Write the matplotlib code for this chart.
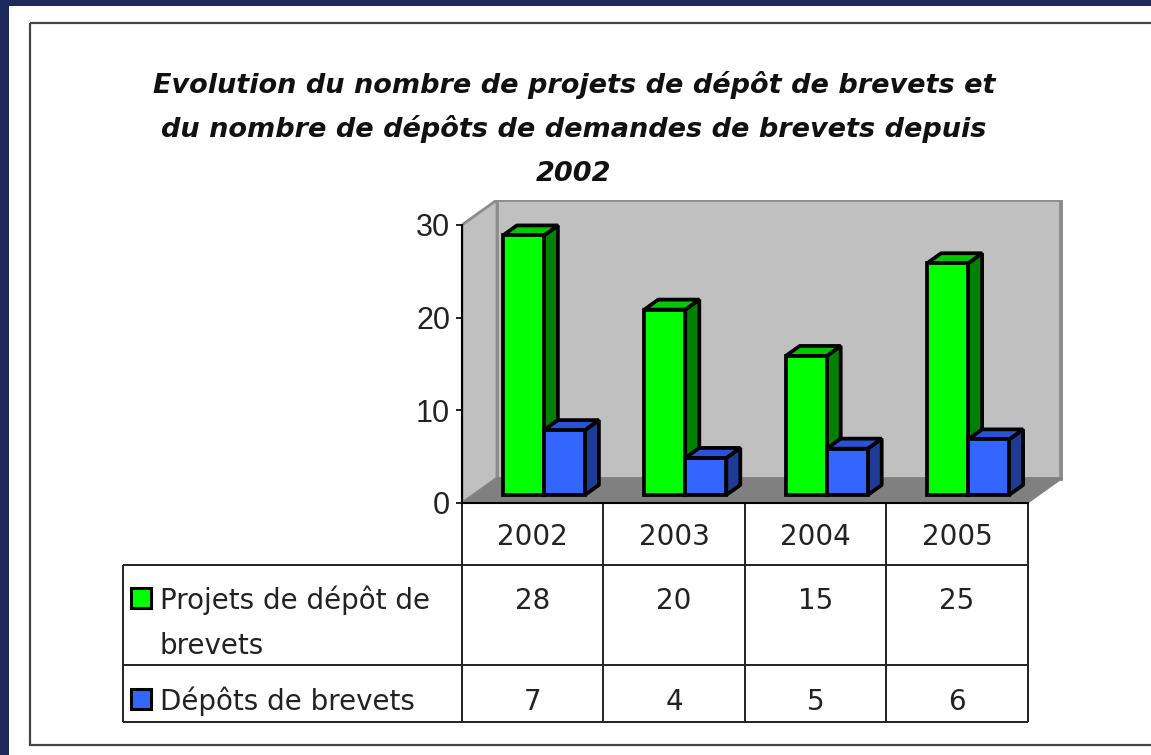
import matplotlib.pyplot as plt
from matplotlib.patches import Polygon, Rectangle

W, H = 1151, 755

annees = ['2002', '2003', '2004', '2005']
projets = [28, 20, 15, 25]
depots = [7, 4, 5, 6]
noms = [['Projets de dépôt de', 'brevets'], ['Dépôts de brevets']]
titre = ["Evolution du nombre de projets de dépôt de brevets et",
         "du nombre de dépôts de demandes de brevets depuis",
         "2002"]
yticks = [0, 10, 20, 30]

NAVY = '#1d2a5c'
# front, side, top
VERT = ('#00ff00', '#008000', '#00c800')
BLEU = ('#3366ff', '#1f3b93', '#2a52d6')

# layout (pixels)
X0, Y0 = 462, 503
CAT_PX, UNIT_PX = 141.4, 9.27
DEPTH = (35, 25)

fig = plt.figure(figsize=(W / 100, H / 100), dpi=100)
fig.patch.set_facecolor(NAVY)

# background layer in pixel coords: page, frame, title, table
lay = fig.add_axes([0, 0, 1, 1], zorder=0)
lay.set_xlim(0, W)
lay.set_ylim(H, 0)
lay.axis('off')
lay.add_patch(Rectangle((9, 6), W, H, fc='white', ec='none'))
lay.add_patch(Rectangle((30, 23), W, 722, fc='none', ec='#444444', lw=1.6))

for j, ligne in enumerate(titre):
    lay.text(574, 93 + 44 * j, ligne, ha='center', va='baseline', fontsize=19.5,
             fontweight='bold', style='italic', color='#111111', family='DejaVu Sans')

# chart axes
n = len(annees)
ymax = yticks[-1]
ddx, ddy = DEPTH[0] / CAT_PX, DEPTH[1] / UNIT_PX
xmin, xmax = -0.5, n - 0.5
ax_w = (xmax - xmin + ddx) * CAT_PX
ax_h = (ymax + ddy) * UNIT_PX
ax = fig.add_axes([X0 / W, (H - Y0) / H, ax_w / W, ax_h / H], zorder=1)
ax.set_xlim(xmin, xmax + ddx)
ax.set_ylim(0, ymax + ddy)
ax.patch.set_visible(False)

wall = dict(fc='#c0c0c0', ec='#8c8c8c', lw=2, joinstyle='bevel', zorder=0)
ax.add_patch(Polygon([(xmin, 0), (xmin + ddx, ddy), (xmin + ddx, ymax + ddy), (xmin, ymax)], **wall))
ax.add_patch(Polygon([(xmin + ddx, ddy), (xmax + ddx, ddy), (xmax + ddx, ymax + ddy),
                      (xmin + ddx, ymax + ddy)], **wall))
ax.plot([xmax + ddx - 0.012] * 2, [ddy, ymax + ddy], color='#8c8c8c', lw=3.5, zorder=0.5)
ax.add_patch(Polygon([(xmin, 0), (xmax, 0), (xmax + ddx, ddy), (xmin + ddx, ddy)],
                     fc='#808080', ec='#808080', lw=1, zorder=0.6))

# 3d bars
w = 0.29
lw_bar = 2.7
sx, sy = 0.32 * ddx, 0.32 * ddy
bx, by = 0.4 * ddx, 0.4 * ddy
for k, (vals, cols, off) in enumerate([(projets, VERT, -w), (depots, BLEU, 0.0)]):
    xs = [i + off + sx for i in range(n)]
    ax.bar(xs, vals, width=w, bottom=sy, align='edge', color=cols[0],
           edgecolor='black', lw=lw_bar, zorder=4)
    for x, v in zip(xs, vals):
        x1 = x + w
        top = sy + v
        ax.add_patch(Polygon([(x1, sy), (x1 + bx, sy + by), (x1 + bx, top + by), (x1, top)],
                             fc=cols[1], ec='black', lw=lw_bar, joinstyle='bevel', zorder=2 + k))
        ax.add_patch(Polygon([(x, top), (x + bx, top + by), (x1 + bx, top + by), (x1, top)],
                             fc=cols[2], ec='black', lw=lw_bar, joinstyle='bevel', zorder=2 + k))

for s in ['top', 'right']:
    ax.spines[s].set_visible(False)
ax.spines['left'].set_bounds(0, ymax)
ax.spines['bottom'].set_bounds(xmin, xmax)
for s in ['left', 'bottom']:
    ax.spines[s].set_linewidth(1.5)
ax.set_xticks([])
ax.set_yticks(yticks)
ax.tick_params(axis='y', length=4.5, width=1.2, pad=4, labelsize=22)
for t in ax.get_yticklabels():
    t.set_family('Liberation Sans')
    t.set_color('#222222')

# data table
cols_x = [X0 + CAT_PX * i for i in range(n + 1)]
rows_y = [Y0, 565, 665, 722]
LAB_X = 123
line = dict(color='#222222', lw=1.4)
lay.hlines(rows_y[0], X0, cols_x[-1], **line)
lay.hlines(rows_y[1:], LAB_X, cols_x[-1], **line)
lay.vlines(cols_x, rows_y[0], rows_y[-1], **line)
lay.vlines(LAB_X, rows_y[1], rows_y[-1], **line)

txt = dict(fontsize=20, color='#222222', family='DejaVu Sans', va='baseline')
for i, a in enumerate(annees):
    xc = (cols_x[i] + cols_x[i + 1]) / 2
    lay.text(xc, 545, a, ha='center', **txt)
    lay.text(xc, 609, str(projets[i]), ha='center', **txt)
    lay.text(xc, 710, str(depots[i]), ha='center', **txt)

for nom, cols, yb in zip(noms, [VERT, BLEU], [609, 710]):
    for j, ligne in enumerate(nom):
        lay.text(160, yb + 45 * j, ligne, ha='left', **txt)
    lay.plot(141.5, yb - 11.5, marker='s', ms=14.5, mfc=cols[0], mec='black', mew=2.2)

fig.savefig('out.png', dpi=100, facecolor=fig.get_facecolor())
